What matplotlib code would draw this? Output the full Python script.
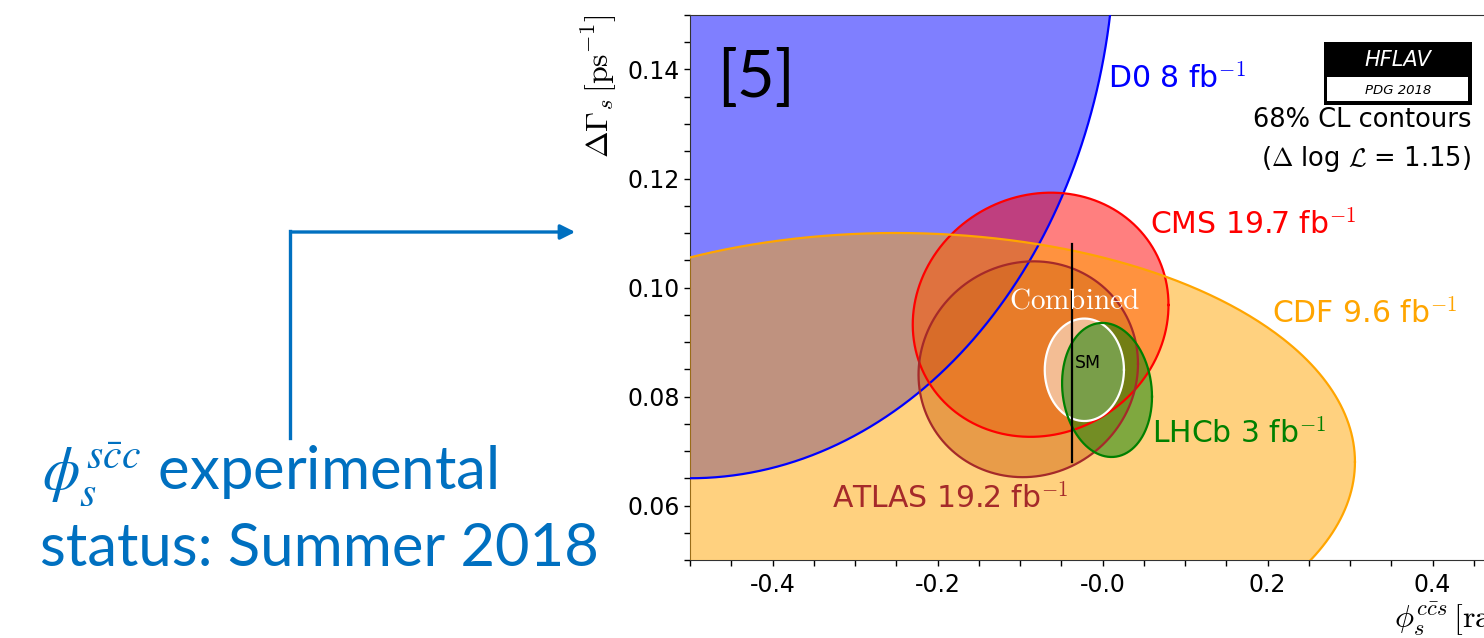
import numpy as np
import matplotlib
matplotlib.use("Agg")
import matplotlib.pyplot as plt
from matplotlib.patches import Rectangle, FancyArrowPatch
from matplotlib.lines import Line2D
from matplotlib.ticker import MultipleLocator

plt.rcParams["mathtext.fontset"] = "cm"
plt.rcParams["axes.unicode_minus"] = False

# 68% CL contours (Delta log L = 1.15): centre, half-widths and correlation
experiments = ["D0", "CMS", "ATLAS", "CDF", "Combined", "LHCb"]
phi_center = [-0.500, -0.075, -0.090, -0.250, -0.022, 0.0055]
dg_center = [0.165, 0.0950, 0.0850, 0.0680, 0.0849, 0.0812]
phi_half = [0.515, 0.155, 0.133, 0.556, 0.048, 0.0545]
dg_half = [0.100, 0.0224, 0.0198, 0.042, 0.0094, 0.0123]
corr = [0.0, 0.08, 0.05, 0.0, 0.0, -0.10]
colors = ["blue", "red", "brown", "orange", "white", "green"]

labels = {
    "D0": r"D0 8 fb$^{-1}$",
    "CMS": r"CMS 19.7 fb$^{-1}$",
    "CDF": r"CDF 9.6 fb$^{-1}$",
    "LHCb": r"LHCb 3 fb$^{-1}$",
    "ATLAS": r"ATLAS 19.2 fb$^{-1}$",
}
label_pos = {
    "D0": (0.007, 0.1383),
    "CMS": (0.058, 0.1115),
    "CDF": (0.2055, 0.0953),
    "LHCb": (0.060, 0.0733),
    "ATLAS": (-0.328, 0.0614),
}

# Standard Model prediction
sm_phi = -0.0365
sm_dg = 0.088
sm_dg_err = 0.020

x_ticks = [-0.4, -0.2, 0.0, 0.2, 0.4]
x_tick_labels = ["-0.4", "-0.2", "-0.0", "0.2", "0.4"]
y_ticks = [0.06, 0.08, 0.10, 0.12, 0.14]
y_tick_labels = ["0.06", "0.08", "0.10", "0.12", "0.14"]

W, H = 1484, 638
fig = plt.figure(figsize=(W / 100, H / 100), dpi=100)
ax = fig.add_axes([690 / W, 1 - 560 / H, 825 / W, 545 / H])


def contour(cx, cy, sx, sy, rho, n=600):
    t = np.linspace(0, 2 * np.pi, n)
    x = cx + sx * np.cos(t)
    y = cy + sy * (rho * np.cos(t) + np.sqrt(1 - rho ** 2) * np.sin(t))
    return x, y


curves = []
for i, name in enumerate(experiments):
    x, y = contour(phi_center[i], dg_center[i], phi_half[i], dg_half[i], corr[i])
    ax.fill(x, y, color=colors[i], alpha=0.5, lw=0, zorder=1 + i)
    curves.append((x, y, colors[i]))
for x, y, c in curves:
    ax.plot(x, y, color=c, lw=1.6, zorder=10)

ax.plot([sm_phi, sm_phi], [sm_dg - sm_dg_err, sm_dg + sm_dg_err],
        color="black", lw=1.6, zorder=12)
ax.text(sm_phi + 0.003, sm_dg - 0.0019, "SM", fontsize=12.5,
        ha="left", va="center", zorder=13)

ax.text(-0.0345, 0.0962, r"$\mathrm{Combined}$", color="white", fontsize=21,
        ha="center", va="baseline", zorder=13)

for name, txt in labels.items():
    c = colors[experiments.index(name)]
    ax.text(*label_pos[name], txt, color=c, fontsize=21.5,
            ha="left", va="center", zorder=13)

ax.text(-0.42, 0.1384, "[5]", fontsize=47, family="Lato",
        ha="center", va="center", zorder=13)

ax.text(0.4467, 0.1307, "68% CL contours", fontsize=18.5,
        ha="right", va="center", zorder=13)
ax.text(0.4467, 0.1236, r"($\Delta$ log $\mathcal{L}$ = 1.15)", fontsize=18.5,
        ha="right", va="center", zorder=13)

ax.set_xlim(-0.5, 0.5)
ax.set_ylim(0.05, 0.15)
ax.set_xticks(x_ticks, x_tick_labels)
ax.set_yticks(y_ticks, y_tick_labels)
ax.xaxis.set_minor_locator(MultipleLocator(0.05))
ax.yaxis.set_minor_locator(MultipleLocator(0.005))
ax.tick_params(which="both", direction="out", length=4.5, width=1.0,
               labelsize=17, pad=3)
ax.tick_params(axis="x", pad=5)
for s in ax.spines.values():
    s.set_color("#333333")

ax.set_ylabel(r"$\Delta\Gamma_s\,[\mathrm{ps}^{-1}]$", fontsize=23, loc="top",
              labelpad=6)
ax.set_xlabel(r"$\phi_s^{c\bar{c}s}\,[\mathrm{rad}]$", fontsize=23, loc="right",
              labelpad=2)

# HFLAV logo box
fig.add_artist(Rectangle((1324 / W, 1 - 105 / H), 148 / W, 63 / H,
                         transform=fig.transFigure, facecolor="black",
                         edgecolor="none"))
fig.add_artist(Rectangle((1327 / W, 1 - 101 / H), 141 / W, 24 / H,
                         transform=fig.transFigure, facecolor="white",
                         edgecolor="none"))
fig.text(1398 / W, 1 - 60 / H, "HFLAV", color="white", fontsize=15,
         style="italic", ha="center", va="center")
fig.text(1398 / W, 1 - 90 / H, "PDG 2018", color="black", fontsize=9.5,
         style="italic", ha="center", va="center")

# slide annotation on the left
blue = "#0070C0"
fig.add_artist(Line2D([290 / W, 290 / W], [1 - 438 / H, 1 - 231 / H],
                      transform=fig.transFigure, color=blue, lw=2.4))
fig.add_artist(FancyArrowPatch((289 / W, 1 - 232 / H), (578 / W, 1 - 232 / H),
                               transform=fig.transFigure, color=blue, lw=2.4,
                               arrowstyle="-|>", mutation_scale=22))
fig.text(42 / W, 1 - 490 / H, r"$\phi_s^{s\bar{c}c}$ experimental",
         fontsize=43, color=blue, family="Lato", math_fontfamily="stix",
         va="baseline", ha="left")
fig.text(40 / W, 1 - 566 / H, "status: Summer 2018",
         fontsize=43, color=blue, family="Lato", va="baseline", ha="left")

fig.savefig("out.png", dpi=100)
